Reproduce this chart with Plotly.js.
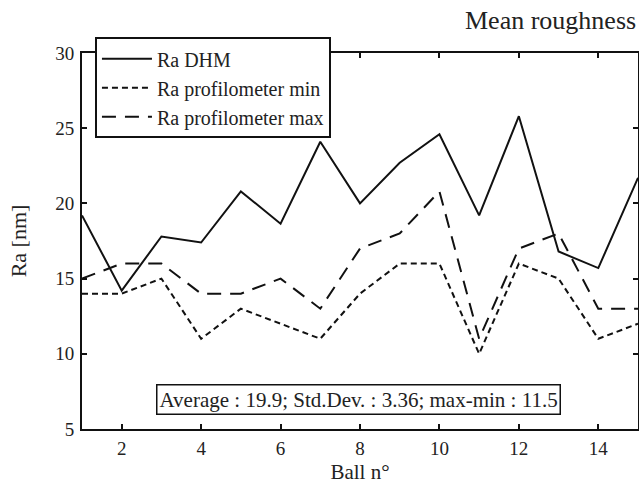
<!DOCTYPE html>
<html>
<head>
<meta charset="utf-8">
<script src="https://cdn.plot.ly/plotly-3.0.1.min.js"></script>
<style>html,body{margin:0;padding:0;background:#fff;}#chart{width:639px;height:484px;}</style>
</head>
<body>
<div id="chart"></div>
<script>
var balls = [1,2,3,4,5,6,7,8,9,10,11,12,13,14,15];
var raDHM = [19.2,14.2,17.8,17.4,20.8,18.65,24.1,20.0,22.7,24.6,19.2,25.8,16.8,15.7,21.7];
var raProfMin = [14,14,15,11,13,12,11,14,16,16,10,16,15,11,12];
var raProfMax = [15,16,16,14,14,15,13,17,18,20.8,11,17,18,13,13];
var seriesNames = ["Ra DHM","Ra profilometer min","Ra profilometer max"];
var xTicks = [2,4,6,8,10,12,14];
var yTicks = [5,10,15,20,25,30];
var statsText = "Average : 19.9; Std.Dev. : 3.36; max-min : 11.5";
var titleText = "Mean roughness";

var FONT = "Liberation Serif, Times New Roman, serif";
var traces = [
  {x: balls, y: raDHM, name: seriesNames[0], mode: "lines", line: {color: "#111", width: 2}},
  {x: balls, y: raProfMin, name: seriesNames[1], mode: "lines", line: {color: "#111", width: 2, dash: "6px,4px"}},
  {x: balls, y: raProfMax, name: seriesNames[2], mode: "lines", line: {color: "#111", width: 2, dash: "14px,9px"}}
];
var axisCommon = {
  showline: true, linecolor: "#111", linewidth: 2, mirror: "ticks",
  ticks: "inside", ticklen: 5, tickwidth: 2, tickcolor: "#111",
  showgrid: false, zeroline: false,
  tickfont: {family: FONT, size: 19, color: "#222"}
};
var layout = {
  width: 639, height: 484,
  margin: {l: 82, r: 1, t: 53, b: 55},
  paper_bgcolor: "#fff", plot_bgcolor: "#fff",
  font: {family: FONT, color: "#222"},
  title: {text: titleText, font: {family: FONT, size: 26, color: "#222"},
          xref: "container", yref: "container", x: 465/639, xanchor: "left", y: 1-20/484, yanchor: "middle"},
  xaxis: Object.assign({}, axisCommon, {
    range: [1, 15], tickvals: xTicks, ticklabelstandoff: 1,
    title: {text: "Ball n°", font: {family: FONT, size: 21, color: "#222"}, standoff: 7}
  }),
  yaxis: Object.assign({}, axisCommon, {
    range: [5, 30], tickvals: yTicks, ticklabelstandoff: 2,
    title: {text: "Ra [nm]", font: {family: FONT, size: 22, color: "#222"}, standoff: 23}
  }),
  showlegend: true,
  legend: {
    x: 0.0233, y: 1.042, xanchor: "left", yanchor: "top",
    bgcolor: "#fff", bordercolor: "#111", borderwidth: 2,
    font: {family: FONT, size: 20, color: "#222"},
    itemwidth: 50, tracegroupgap: 0
  },
  annotations: [{
    xref: "paper", yref: "paper", x: 0.498, y: 0.078, xanchor: "center", yanchor: "middle",
    text: statsText, showarrow: false,
    font: {family: FONT, size: 21, color: "#222"},
    bordercolor: "#111", borderwidth: 1.5, borderpad: 2, bgcolor: "#fff"
  }]
};
Plotly.newPlot("chart", traces, layout, {staticPlot: true, displayModeBar: false});
</script>
</body>
</html>
